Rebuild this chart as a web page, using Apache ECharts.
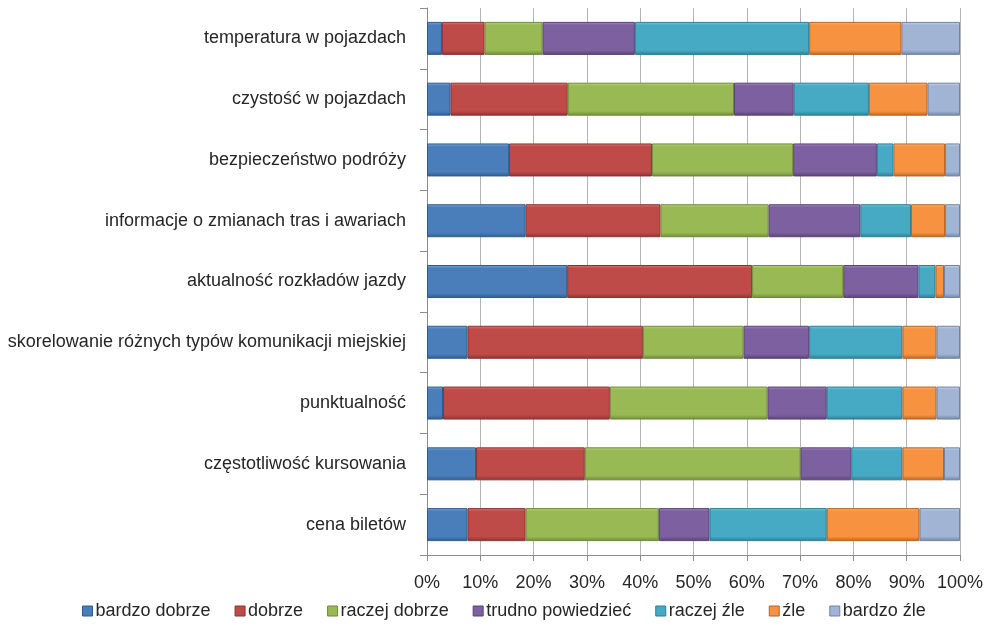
<!DOCTYPE html>
<html>
<head>
<meta charset="utf-8">
<script src="https://cdn.jsdelivr.net/npm/echarts@6/dist/echarts.min.js"></script>
<style>
  html, body { margin: 0; padding: 0; background: #fff; }
  #chart { width: 991px; height: 628px; }
</style>
</head>
<body>
<div id="chart"></div>
<script>
// Ocena jakości komunikacji – udział odpowiedzi (%)
const categories = [
  'temperatura w pojazdach',
  'czystość w pojazdach',
  'bezpieczeństwo podróży',
  'informacje o zmianach tras i awariach',
  'aktualność rozkładów jazdy',
  'skorelowanie różnych typów komunikacji miejskiej',
  'punktualność',
  'częstotliwość kursowania',
  'cena biletów'
];

const seriesNames = ['bardzo dobrze', 'dobrze', 'raczej dobrze', 'trudno powiedzieć', 'raczej źle', 'źle', 'bardzo źle'];

const bardzoDobrze    = [2.8, 4.4, 15.4, 18.5, 26.3, 7.6, 3.0, 9.2, 7.6];
const dobrze          = [8.0, 22.0, 26.8, 25.3, 34.7, 32.9, 31.3, 20.4, 10.9];
const raczejDobrze    = [10.9, 31.2, 26.5, 20.3, 17.1, 18.9, 29.6, 40.5, 25.0];
const trudnoPowiedzec = [17.3, 11.2, 15.7, 17.2, 14.1, 12.3, 11.1, 9.5, 9.5];
const raczejZle       = [32.7, 14.1, 3.1, 9.5, 3.2, 17.5, 14.2, 9.6, 22.0];
const zle             = [17.3, 11.0, 9.7, 6.4, 1.6, 6.4, 6.4, 7.8, 17.4];
const bardzoZle       = [11.0, 6.1, 2.8, 2.8, 3.0, 4.4, 4.4, 3.0, 7.6];

const xTicks = [0, 10, 20, 30, 40, 50, 60, 70, 80, 90, 100];

const values = [bardzoDobrze, dobrze, raczejDobrze, trudnoPowiedzec, raczejZle, zle, bardzoZle];

// base, light edge, dark edge for the bevelled bars
const palette = [
  ['#4A7EBB', '#7FA6D6', '#2F5C8F'],
  ['#BE4B48', '#DA7C79', '#8C3331'],
  ['#98B954', '#BBD588', '#6E8A38'],
  ['#7D60A0', '#A48CC0', '#584276'],
  ['#46AAC5', '#7FC8DC', '#2C7E95'],
  ['#F69240', '#F9B67C', '#B96520'],
  ['#A1B4D4', '#C8D5EA', '#6F83A5']
];

const font = '"Liberation Sans", Arial, sans-serif';

function bevel(c) {
  return new echarts.graphic.LinearGradient(0, 0, 0, 1, [
    { offset: 0, color: c[1] },
    { offset: 0.1, color: c[0] },
    { offset: 0.86, color: c[0] },
    { offset: 1, color: c[2] }
  ]);
}

const chart = echarts.init(document.getElementById('chart'), null, { renderer: 'canvas' });

chart.setOption({
  animation: false,
  backgroundColor: '#ffffff',
  textStyle: { fontFamily: font },
  grid: { left: 427, right: 31, top: 8, bottom: 73, containLabel: false },
  legend: {
    data: seriesNames.map((n, i) => ({ name: n, itemStyle: { color: palette[i][0], borderColor: palette[i][2], borderWidth: 1 } })),
    left: 77,
    top: 597,
    itemWidth: 10,
    itemHeight: 10,
    itemGap: 24,
    icon: 'rect',
    textStyle: { fontFamily: font, fontSize: 18, color: '#262626', padding: [0, 0, 0, -2] }
  },
  xAxis: {
    type: 'value',
    min: 0,
    max: 100,
    interval: 10,
    axisLine: { show: true, lineStyle: { color: '#8c8c8c', width: 1 } },
    axisTick: { show: true, length: 6, lineStyle: { color: '#8c8c8c' } },
    splitLine: { show: true, lineStyle: { color: '#b4b4b4', width: 1 } },
    axisLabel: {
      formatter: v => xTicks.includes(v) ? v + '%' : '',
      fontFamily: font, fontSize: 18, color: '#262626', margin: 19
    }
  },
  yAxis: {
    type: 'category',
    inverse: true,
    data: categories,
    axisLine: { show: true, lineStyle: { color: '#8c8c8c', width: 1 } },
    axisTick: { show: true, length: 7, lineStyle: { color: '#8c8c8c' } },
    axisLabel: { fontFamily: font, fontSize: 18, color: '#262626', margin: 21 }
  },
  series: values.map((arr, i) => ({
    name: seriesNames[i],
    type: 'bar',
    stack: 'total',
    data: arr,
    barWidth: 33,
    itemStyle: {
      color: bevel(palette[i]),
      borderColor: palette[i][2],
      borderWidth: 1
    }
  }))
});
</script>
</body>
</html>
